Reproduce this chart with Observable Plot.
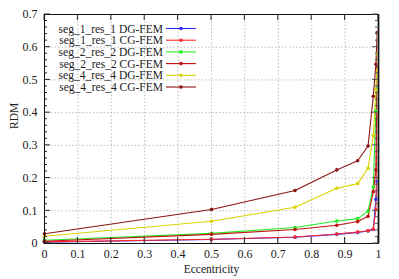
<!DOCTYPE html>
<html><head><meta charset="utf-8">
<script src="https://cdn.jsdelivr.net/npm/d3@7"></script>
<script src="https://cdn.jsdelivr.net/npm/@observablehq/plot@0.6"></script>
<style>
body{margin:0;background:#fff}
svg, svg text{font-family:"Liberation Serif","DejaVu Serif",serif !important}
</style>
</head><body><div id="chart"></div>
<script>
const eccentricity = [0, 0.5, 0.75, 0.875, 0.9375, 0.96875, 0.984375, 0.9921875, 0.99609375];
const seriesNames = ["seg_1_res_1 DG-FEM","seg_1_res_1 CG-FEM","seg_2_res_2 DG-FEM","seg_2_res_2 CG-FEM","seg_4_res_4 DG-FEM","seg_4_res_4 CG-FEM"];
const seg1DG = [0.004, 0.012, 0.019, 0.028, 0.034, 0.038, 0.043, 0.135, 0.19];
const seg1CG = [0.005, 0.013, 0.020, 0.029, 0.035, 0.039, 0.044, 0.104, 0.397];
const seg2DG = [0.010, 0.031, 0.049, 0.069, 0.076, 0.099, 0.173, 0.405, 0.474];
const seg2CG = [0.007, 0.028, 0.043, 0.056, 0.067, 0.083, 0.158, 0.225, 0.54];
const seg4DG = [0.022, 0.068, 0.111, 0.169, 0.183, 0.230, 0.33, 0.47, 0.58];
const seg4CG = [0.030, 0.104, 0.162, 0.225, 0.253, 0.298, 0.45, 0.548, 0.645];
const seriesColors = ["#2a2aff","#ff2a2a","#22ee22","#c01010","#d8d400","#8c1414"];
const xTicks = [0,0.1,0.2,0.3,0.4,0.5,0.6,0.7,0.8,0.9,1];
const yTicks = [0,0.1,0.2,0.3,0.4,0.5,0.6,0.7];
const yMinorStep = 0.02;

const allValues = [seg1DG, seg1CG, seg2DG, seg2CG, seg4DG, seg4CG];
const rows = [];
allValues.forEach((vals, si) => vals.forEach((v, i) => rows.push({series: seriesNames[si], e: eccentricity[i], rdm: v})));
const yMinor = d3.range(0, 0.7 + 1e-9, yMinorStep);
const fmt = d => d === 0 ? "0" : d === 1 ? "1" : d.toFixed(1);

const W = 399, H = 279;
const chart = Plot.plot({
  width: W, height: H,
  marginLeft: 44, marginRight: 21, marginTop: 14, marginBottom: 36,
  style: {fontFamily: '"Liberation Serif", serif', fontSize: "12px", background: "#fff", color: "#222"},
  x: {domain: [0, 1]},
  y: {domain: [0, 0.7]},
  color: {domain: seriesNames, range: seriesColors},
  marks: [
    Plot.gridX(xTicks.slice(1, -1), {stroke: "#bdbdbd", strokeOpacity: 1, strokeDasharray: "1.5,2"}),
    Plot.gridY(yTicks.slice(1, -1), {stroke: "#bdbdbd", strokeOpacity: 1, strokeDasharray: "1.5,2"}),
    Plot.line(rows, {x: "e", y: "rdm", z: "series", stroke: "series", strokeWidth: 1.1}),
    Plot.dot(rows, {x: "e", y: "rdm", fill: "series", r: 1.8}),
    Plot.ruleX([1], {stroke: "#8a8a8a", strokeWidth: 2.5}),
    Plot.frame({stroke: "#111", strokeWidth: 1}),
    Plot.axisY(yTicks, {tickSize: 0, tickPadding: 7, tickFormat: fmt, fontSize: 12, label: null}),
    Plot.axisX(xTicks, {tickSize: 0, tickPadding: 6, tickFormat: fmt, fontSize: 12, label: null}),
    Plot.text(["RDM"], {frameAnchor: "left", dx: -30, rotate: -90, fontSize: 11.5}),
    Plot.text(["Eccentricity"], {frameAnchor: "bottom", dy: 29, fontSize: 11.5})
  ]
});

// inward ticks on all sides, placed through the plot's own scales
const sx = chart.scale("x"), sy = chart.scale("y");
const svg = d3.select(chart);
const g = svg.append("g").attr("stroke", "#222").attr("stroke-width", 1);
const x0 = sx.apply(0), x1 = sx.apply(1), y0 = sy.apply(0), y1 = sy.apply(0.7);
yMinor.forEach(v => {
  const major = yTicks.some(t => Math.abs(t - v) < 1e-9);
  const len = major ? 6 : 3;
  const y = sy.apply(v);
  g.append("line").attr("x1", x0).attr("x2", x0 + len).attr("y1", y).attr("y2", y);
  g.append("line").attr("x1", x1).attr("x2", x1 - len).attr("y1", y).attr("y2", y).attr("stroke", "#555");
});
xTicks.forEach(v => {
  const x = sx.apply(v);
  g.append("line").attr("x1", x).attr("x2", x).attr("y1", y0).attr("y2", y0 - 6);
  g.append("line").attr("x1", x).attr("x2", x).attr("y1", y1).attr("y2", y1 + 6);
});

// key
const key = svg.append("g").attr("font-size", "11.5px");
seriesNames.forEach((name, i) => {
  const y = 28.5 + i * 11.7;
  key.append("text").attr("x", 163).attr("y", y).attr("dy", "0.35em").attr("text-anchor", "end").attr("fill", "#222").text(name);
  key.append("line").attr("x1", 166).attr("x2", 196).attr("y1", y).attr("y2", y).attr("stroke", seriesColors[i]).attr("stroke-width", 1.1);
  key.append("circle").attr("cx", 181).attr("cy", y).attr("r", 1.8).attr("fill", seriesColors[i]);
});

document.getElementById("chart").appendChild(chart);
</script>
</body></html>
